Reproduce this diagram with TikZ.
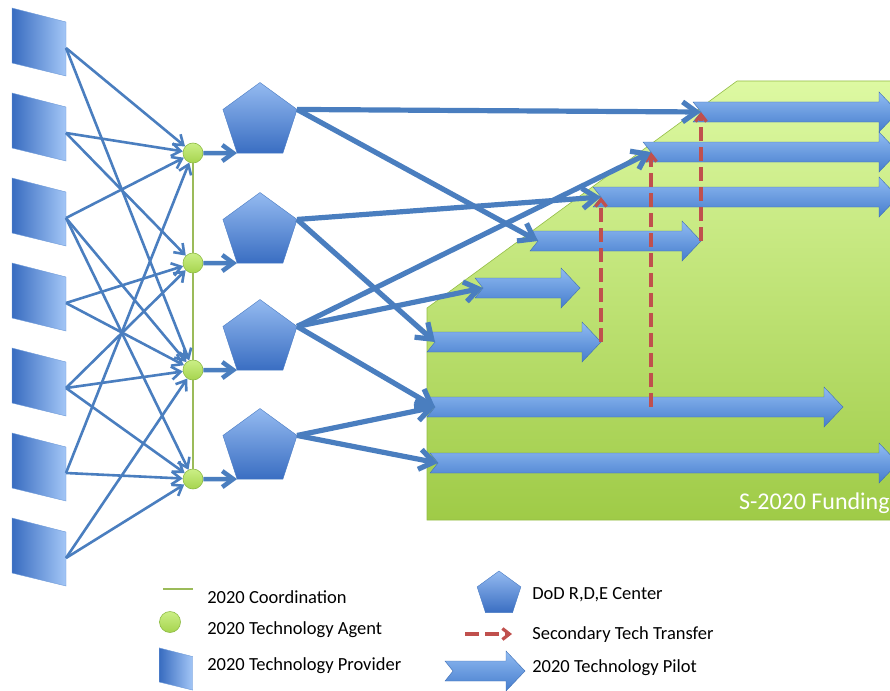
\documentclass[tikz,border=0pt]{standalone}
\usepackage{fontspec}
\setmainfont{Carlito}
\usepackage{tikz}
\usetikzlibrary{arrows.meta,shapes.geometric}

\definecolor{linkblue}{HTML}{4A7EBF}
\definecolor{pentlight}{HTML}{94BAF0}
\definecolor{pentdark}{HTML}{3A6EC2}
\definecolor{pentedge}{HTML}{4A7CC4}
\definecolor{provlight}{HTML}{A3C6F6}
\definecolor{provdark}{HTML}{386CC0}
\definecolor{provedge}{HTML}{6E9AD8}
\definecolor{pilotlight}{HTML}{90BBF2}
\definecolor{pilotdark}{HTML}{467DCD}
\definecolor{pilotedge}{HTML}{3F6FB5}
\definecolor{agenttop}{HTML}{CBEF86}
\definecolor{agentbottom}{HTML}{A6D44E}
\definecolor{agentedge}{HTML}{8DBB45}
\definecolor{coordgreen}{HTML}{9BBB59}
\definecolor{transferred}{HTML}{C0504D}
\definecolor{fundtop}{HTML}{DDF9A2}
\definecolor{fundbottom}{HTML}{9FCB47}
\definecolor{fundedge}{HTML}{94BD46}

% provider: name, centre, size
\newcommand\provider[3]{%
  \begin{scope}[shift={#2},scale=#3]
    \draw[provider] (-27,-34) -- (27,-20) -- (27,34) -- (-27,21) -- cycle;
    \coordinate (#1) at (27,6);
  \end{scope}}

% pilot: name, tail x, tip x, y
\newcommand\pilot[4]{%
  \draw[pilotarrow] (#2,#4-10) -- (#3-19,#4-10) -- (#3-19,#4-20) -- (#3,#4)
    -- (#3-19,#4+20) -- (#3-19,#4+10) -- (#2,#4+10) -- (#2+8,#4) -- cycle;
  \coordinate (#1) at (#2+8,#4);
  \coordinate (#1 tip) at (#3,#4);}

\begin{document}
\begin{tikzpicture}[x=1pt,y=-1pt,semithick,font=\fontsize{18.5}{22}\selectfont]

  \tikzstyle{agent}=[circle,draw=agentedge,top color=agenttop,bottom color=agentbottom,
                     minimum size=20pt,inner sep=0pt]
  \tikzstyle{rdecenter}=[regular polygon,regular polygon sides=5,draw=pentedge,thin,
                         top color=pentlight,bottom color=pentdark,
                         minimum size=78pt,inner sep=0pt,outer sep=0pt]
  \tikzstyle{provider}=[draw=provedge,thin,left color=provdark,right color=provlight]
  \tikzstyle{pilotarrow}=[draw=pilotedge,thin,top color=pilotlight,bottom color=pilotdark]
  \tikzstyle{supply}=[-{Straight Barb[length=9pt,width=13pt]},linkblue,line width=2.6pt]
  \tikzstyle{handoff}=[-{Straight Barb[length=11pt,width=16pt]},linkblue,line width=4.5pt]
  \tikzstyle{route}=[-{Straight Barb[length=14pt,width=20pt]},linkblue,line width=5.2pt]
  \tikzstyle{transfer}=[-{Straight Barb[length=7pt,width=11pt]},transferred,
                        line width=3.2pt,dash pattern=on 14pt off 6pt]
  \tikzstyle{coordline}=[coordgreen,line width=2.8pt]
  \tikzstyle{legend}=[anchor=west,inner sep=0pt,text=black]

  \useasboundingbox (0,0) rectangle (890,690);
  \clip (0,0) rectangle (890,690);

  % funding area
  \draw[fundedge,top color=fundtop,bottom color=fundbottom]
    (427,308) -- (737,81) -- (895,81) -- (895,520) -- (427,520) -- cycle;
  \node[anchor=east,inner sep=0pt,text=white,font=\fontsize{24}{28}\selectfont]
    (fund) at (890,503) {S-2020 Funding};

  \pilot{pl1}{693}{898}{112}
  \pilot{pl2}{643}{898}{152}
  \pilot{pl3}{593}{898}{197}
  \pilot{pl4}{530}{701}{241}
  \pilot{pl5}{475}{580}{288}
  \pilot{pl6}{427}{601}{342}
  \pilot{pl7}{427}{843}{407}
  \pilot{pl8}{430}{898}{463}

  \path[transfer] (pl6 tip)    edge (pl3)
                  (pl2 |- pl7) edge (pl2)
                  (pl4 tip)    edge (pl1);

  \node[rdecenter] (d1) at (260,121.5) {};
  \node[rdecenter] (d2) at (260,231.5) {};
  \node[rdecenter] (d3) at (260,338.5) {};
  \node[rdecenter] (d4) at (260,447.5) {};

  \path[route]
  (d1.corner 5) edge (pl1) edge (pl4)
  (d2.corner 5) edge (pl3) edge (pl6)
  (d3.corner 5) edge (pl2) edge (pl5) edge (pl7)
  (d4.corner 5) edge (pl7) edge (pl8);

  \provider{p1}{(39,42)}{1}
  \provider{p2}{(39,127)}{1}
  \provider{p3}{(39,212)}{1}
  \provider{p4}{(39,297)}{1}
  \provider{p5}{(39,382)}{1}
  \provider{p6}{(39,467)}{1}
  \provider{p7}{(39,552)}{1}

  \node[agent] (a1) at (193,153) {};
  \node[agent] (a2) at (193,263) {};
  \node[agent] (a3) at (193,370) {};
  \node[agent] (a4) at (193,479) {};

  \path[coordline] (a1) edge (a2) (a2) edge (a3) (a3) edge (a4);

  \path[supply]
  (p1) edge (a1) edge (a3)
  (p2) edge (a1) edge (a2)
  (p3) edge (a1) edge (a3) edge (a4)
  (p4) edge (a2) edge (a3)
  (p5) edge (a2) edge (a3) edge (a4)
  (p6) edge (a1) edge (a4)
  (p7) edge (a3) edge (a4);

  \path[handoff]
  (a1) edge (d1.corner 3)
  (a2) edge (d2.corner 3)
  (a3) edge (d3.corner 3)
  (a4) edge (d4.corner 3);

  % legend
  \coordinate (lc1) at (163,589);
  \coordinate (lc2) at (193,589);
  \path[coordline] (lc1) edge (lc2);
  \node[agent,minimum size=21pt] (la) at (170,622) {};
  \provider{lp}{(176,669)}{0.62}
  \node[legend] (tc) at (207,597) {2020 Coordination};
  \node[legend] (ta) at (207,630) {2020 Technology Agent};
  \node[legend] (tp) at (207,666) {2020 Technology Provider};

  \node[rdecenter,minimum size=46pt] (ld) at (499,594) {};
  \coordinate (lt1) at (465,634);
  \coordinate (lt2) at (512,634);
  \path[transfer] (lt1) edge (lt2);
  \pilot{lpl}{445}{525}{671}
  \node[legend] (td) at (532,595) {DoD R,D,E Center};
  \node[legend] (tt) at (532,635) {Secondary Tech Transfer};
  \node[legend] (tl) at (532,668) {2020 Technology Pilot};
\end{tikzpicture}
\end{document}
